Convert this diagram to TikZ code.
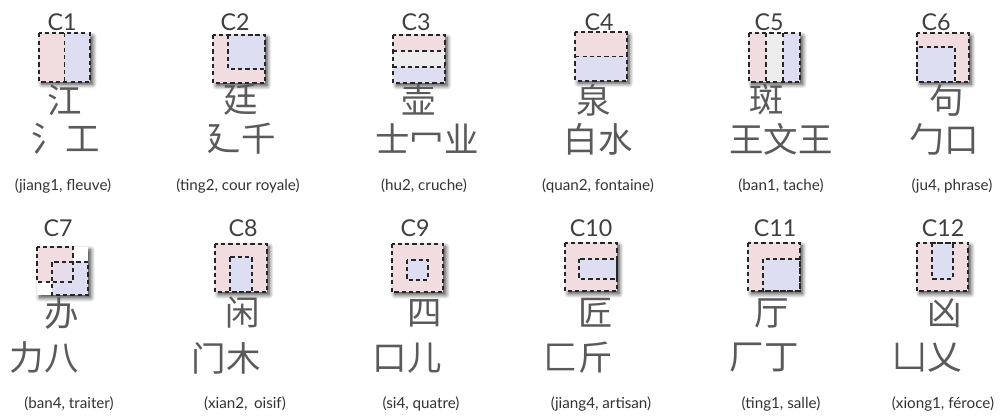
\documentclass[tikz,border=0pt]{standalone}
\usepackage{fontspec}
\setmainfont{Lato}
\newfontfamily\cjk{Noto Sans CJK SC}
\usetikzlibrary{calc,shadows.blur}
\definecolor{rose}{HTML}{F1DCDF}
\definecolor{lilas}{HTML}{DDDEF2}
\definecolor{gris}{HTML}{EDEDED}
\definecolor{mauve}{HTML}{E7DDEA}
\definecolor{encre}{HTML}{5A5A5A}
\tikzset{
  cellbox/.style={minimum width=1.275cm, minimum height=1.2cm, inner sep=0pt, fill=rose,
    blur shadow={shadow xshift=2pt, shadow yshift=-2pt, shadow blur radius=3pt, shadow blur steps=8, shadow opacity=75}},
  tiret/.style={draw=black!85, line width=1.25pt, dash pattern=on 3pt off 2.2pt},
  numero/.style={text=black!75, inner sep=0pt, font=\fontsize{16.5}{16.5}\selectfont},
  hanzi/.style={text=encre, inner sep=0pt, font=\cjk\fontsize{24.5}{24.5}\selectfont},
  legende/.style={text=black!80, inner sep=0pt, font=\fontsize{10.8}{10.8}\selectfont},
}
\begin{document}
\begin{tikzpicture}[x=0.025cm, y=-0.025cm]
\useasboundingbox (0,0) rectangle (1001,419);

% C1 : gauche / droite
\node[numero] (l1) at (62,22) {C1};
\node[cellbox] (k1) at (64.5,57.5) {};
\fill[lilas] (k1.north) rectangle (k1.south east);
\draw[tiret] (k1.north) -- (k1.south);
\draw[tiret] (k1.north west) rectangle (k1.south east);
\node[hanzi] (h1) at (65,100) {江};
\node[hanzi] (d1) at (66,139) {氵工};
\node[legende] (t1) at (63,186) {(jiang1, fleuve)};

% C2
\node[numero] (l2) at (235,22) {C2};
\node[cellbox] (k2) at (239,59) {};
\fill[lilas] ($(k2.north west)+(15,0)$) rectangle ($(k2.north east)+(0,34)$);
\draw[tiret] ($(k2.north west)+(15,0)$) rectangle ($(k2.north east)+(0,34)$);
\draw[tiret] (k2.north west) rectangle (k2.south east);
\node[hanzi] (h2) at (241,100) {廷};
\node[hanzi] (d2) at (241,139) {廴千};
\node[legende] (t2) at (238,186) {(ting2, cour royale)};

% C3 : haut / milieu / bas
\node[numero] (l3) at (416,22) {C3};
\node[cellbox] (k3) at (419,59) {};
\fill[gris] ($(k3.north west)+(0,16)$) rectangle ($(k3.north east)+(0,32)$);
\fill[lilas] ($(k3.north west)+(0,32)$) rectangle (k3.south east);
\draw[tiret] ($(k3.north west)+(0,16)$) -- ($(k3.north east)+(0,16)$);
\draw[tiret] ($(k3.north west)+(0,32)$) -- ($(k3.north east)+(0,32)$);
\draw[tiret] (k3.north west) rectangle (k3.south east);
\node[hanzi] (h3) at (419,100) {壶};
\node[hanzi] (d3) at (427,139) {士冖业};
\node[legende] (t3) at (424,186) {(hu2, cruche)};

% C4 : haut / bas
\node[numero] (l4) at (599,22) {C4};
\node[cellbox] (k4) at (601,56.5) {};
\fill[lilas] (k4.west) rectangle (k4.south east);
\draw[tiret] (k4.west) -- (k4.east);
\draw[tiret] (k4.north west) rectangle (k4.south east);
\node[hanzi] (h4) at (594,100) {泉};
\node[hanzi] (d4) at (598,139) {白水};
\node[legende] (t4) at (598,186) {(quan2, fontaine)};

% C5 : gauche / milieu / droite
\node[numero] (l5) at (769,22) {C5};
\node[cellbox] (k5) at (774.5,57.5) {};
\fill[gris] ($(k5.north west)+(17,0)$) rectangle ($(k5.south west)+(34,0)$);
\fill[lilas] ($(k5.north west)+(34,0)$) rectangle (k5.south east);
\draw[tiret] ($(k5.north west)+(17,0)$) -- ($(k5.south west)+(17,0)$);
\draw[tiret] ($(k5.north west)+(34,0)$) -- ($(k5.south west)+(34,0)$);
\draw[tiret] (k5.north west) rectangle (k5.south east);
\node[hanzi] (h5) at (767,100) {斑};
\node[hanzi] (d5) at (781,139) {王文王};
\node[legende] (t5) at (781,186) {(ban1, tache)};

% C6
\node[numero] (l6) at (936,22) {C6};
\node[cellbox] (k6) at (943,57.5) {};
\fill[lilas] ($(k6.north west)+(0,14)$) rectangle ($(k6.south west)+(38,0)$);
\draw[tiret] ($(k6.north west)+(0,14)$) rectangle ($(k6.south west)+(38,0)$);
\draw[tiret] (k6.north west) rectangle (k6.south east);
\node[hanzi] (h6) at (947,100) {句};
\node[hanzi] (d6) at (944,139) {勹口};
\node[legende] (t6) at (952,186) {(ju4, phrase)};

% C7 : chevauchement
\node[numero] (l7) at (58,228) {C7};
\node[cellbox, fill=white] (k7) at (62.5,271) {};
\fill[rose] (k7.north west) rectangle ($(k7.north west)+(36,35)$);
\fill[lilas] ($(k7.south east)+(-36,-33)$) rectangle (k7.south east);
\fill[mauve] ($(k7.north west)+(15,15)$) rectangle ($(k7.north west)+(36,35)$);
\draw[tiret] (k7.north west) rectangle ($(k7.north west)+(36,35)$);
\draw[tiret] ($(k7.south east)+(-36,-33)$) rectangle (k7.south east);
\node[hanzi] (h7) at (62,313) {办};
\node[hanzi] (d7) at (44,358) {力八};
\node[legende] (t7) at (69,404) {(ban4, traiter)};

% C8
\node[numero] (l8) at (243,228) {C8};
\node[cellbox] (k8) at (241,268) {};
\fill[lilas] ($(k8.south west)+(15,-35)$) rectangle ($(k8.south west)+(37,0)$);
\draw[tiret] ($(k8.south west)+(15,-35)$) rectangle ($(k8.south west)+(37,0)$);
\draw[tiret] (k8.north west) rectangle (k8.south east);
\node[hanzi] (h8) at (243,313) {闲};
\node[hanzi] (d8) at (226,358) {门木};
\node[legende] (t8) at (245,404) {(xian2,\, oisif)};

% C9
\node[numero] (l9) at (415,228) {C9};
\node[cellbox] (k9) at (417.5,268) {};
\fill[lilas] ($(k9.north west)+(15,16)$) rectangle ($(k9.north west)+(36,36)$);
\draw[tiret] ($(k9.north west)+(15,16)$) rectangle ($(k9.north west)+(36,36)$);
\draw[tiret] (k9.north west) rectangle (k9.south east);
\node[hanzi] (h9) at (425,313) {四};
\node[hanzi] (d9) at (407,358) {口儿};
\node[legende] (t9) at (421,404) {(si4, quatre)};

% C10
\node[numero] (l10) at (591,228) {C10};
\node[cellbox] (k10) at (591,267) {};
\fill[lilas] ($(k10.north west)+(14,16)$) rectangle ($(k10.north east)+(0,36)$);
\draw[tiret] ($(k10.north west)+(14,16)$) rectangle ($(k10.north east)+(0,36)$);
\draw[tiret] (k10.north west) rectangle (k10.south east);
\node[hanzi] (h10) at (596,313) {匠};
\node[hanzi] (d10) at (578,358) {匚斤};
\node[legende] (t10) at (601,404) {(jiang4, artisan)};

% C11
\node[numero] (l11) at (775,228) {C11};
\node[cellbox] (k11) at (774,267) {};
\fill[lilas] ($(k11.north west)+(15,16)$) rectangle (k11.south east);
\draw[tiret] ($(k11.north west)+(15,16)$) rectangle (k11.south east);
\draw[tiret] (k11.north west) rectangle (k11.south east);
\node[hanzi] (h11) at (772,313) {厅};
\node[hanzi] (d11) at (764,358) {厂丁};
\node[legende] (t11) at (781,404) {(ting1, salle)};

% C12
\node[numero] (l12) at (943,228) {C12};
\node[cellbox] (k12) at (942.5,267) {};
\fill[lilas] ($(k12.north west)+(15,0)$) rectangle ($(k12.north west)+(36,36)$);
\draw[tiret] ($(k12.north west)+(15,0)$) rectangle ($(k12.north west)+(36,36)$);
\draw[tiret] (k12.north west) rectangle (k12.south east);
\node[hanzi] (h12) at (945,313) {凶};
\node[hanzi] (d12) at (927,358) {凵乂};
\node[legende] (t12) at (943,404) {(xiong1, féroce)};
\end{tikzpicture}
\end{document}
